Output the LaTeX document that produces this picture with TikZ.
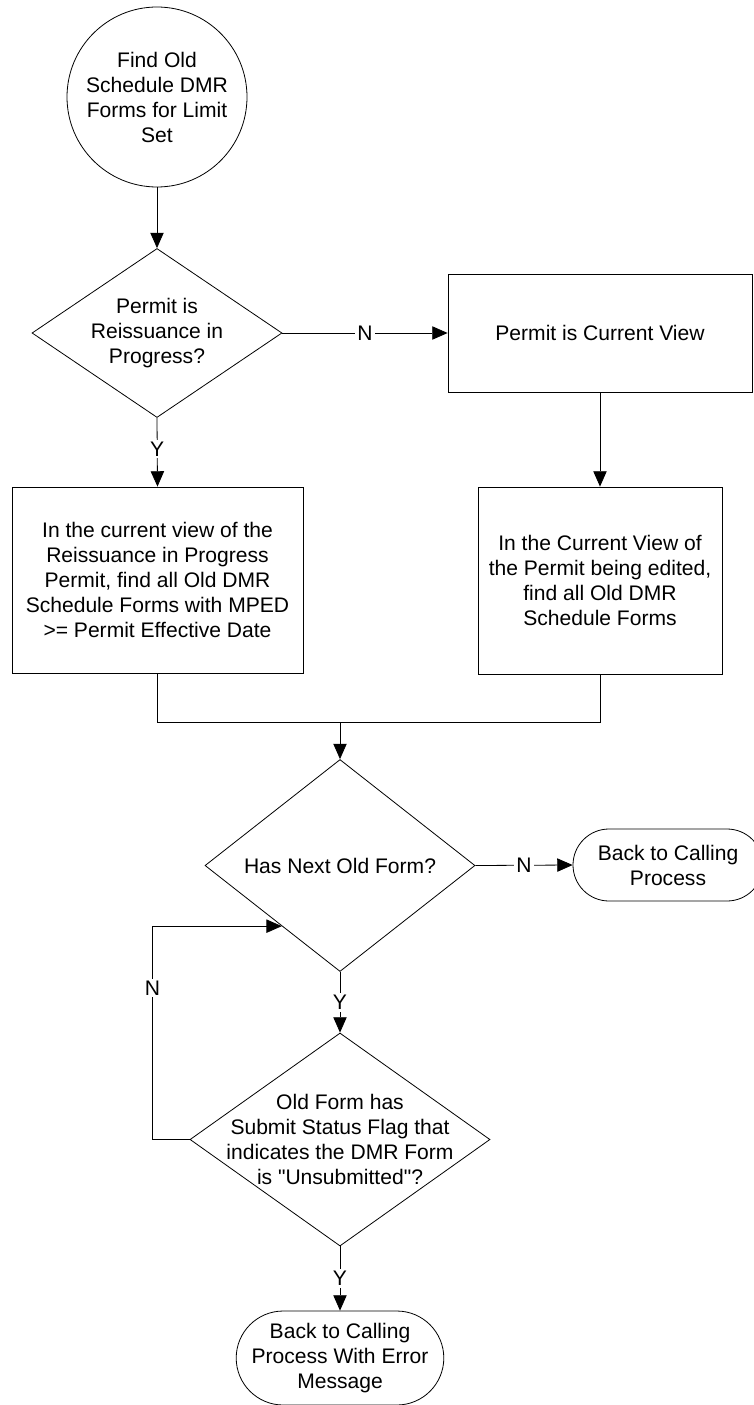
\documentclass[tikz,border=0pt]{standalone}
\usepackage{fontspec}
\setmainfont{Liberation Sans}[Ligatures=TeXOff]
\usetikzlibrary{shapes.geometric,shapes.misc,arrows.meta,calc}

\begin{document}
\begin{tikzpicture}[x=0.75pt,y=-0.75pt,
  every node/.style={font=\fontsize{15.8pt}{18.75pt}\selectfont, align=center},
  box/.style={draw, line width=0.6pt, rectangle, inner sep=0pt},
  decision/.style={draw, line width=0.6pt, diamond, inner sep=0pt},
  terminal/.style={draw, line width=0.6pt, rounded rectangle, inner sep=0pt},
  startnode/.style={draw, line width=0.6pt, circle, inner sep=0pt, minimum size=135pt},
  flow/.style={line width=0.6pt, -{Triangle[length=11.5pt,width=10pt]}},
  plain/.style={line width=0.6pt},
  lbl/.style={fill=white, inner sep=1.5pt}]

\useasboundingbox (0,0) rectangle (753,1405);

% shapes
\node[startnode] (start) at (157,97) {Find Old\\Schedule DMR\\Forms for Limit\\Set};

\node[decision, minimum width=187.5pt, minimum height=126.75pt] (d1) at (157,333) {};
\node at (d1.center) {Permit is\\Reissuance in\\Progress?};

\node[box, minimum width=228pt, minimum height=88.5pt] (cur) at (600,333) {Permit is Current View};

\node[box, minimum width=218.25pt, minimum height=139.5pt] (reis) at (157.5,580)
  {In the current view of the\\Reissuance in Progress\\Permit, find all Old DMR\\Schedule Forms with MPED\\>= Permit Effective Date};

\node[box, minimum width=183pt, minimum height=140.25pt] (edit) at (600,580.5)
  {In the Current View of\\the Permit being edited,\\find all Old DMR\\Schedule Forms};

\node[decision, minimum width=202.5pt, minimum height=159pt] (d2) at (340,865.5) {};
\node at (d2.center) {Has Next Old Form?};

\node[terminal, minimum width=142.5pt, minimum height=54pt] (back) at (668,865) {Back to Calling\\Process};

\node[decision, minimum width=225pt, minimum height=159.75pt] (d3) at (340,1139.5) {};
\node at (d3.center) {Old Form has\\Submit Status Flag that\\indicates the DMR Form\\is "Unsubmitted"?};

\node[terminal, minimum width=144.75pt, minimum height=70.5pt] (err) at (340,1358) {Back to Calling\\Process With Error\\Message};

% connectors
\draw[flow] (start.south) -- (d1.north);
\draw[flow] (d1.east) -- node[lbl]{N} (cur.west);
\draw[flow] (d1.south) -- node[lbl, pos=0.45]{Y} (reis.north);
\draw[flow] (cur.south) -- (edit.north);

\coordinate (merge) at (340,722);
\draw[plain] (reis.south) |- (merge);
\draw[plain] (edit.south) |- (merge);
\draw[flow] (merge) -- (d2.north);

\draw[flow] (d2.east) -- node[lbl]{N} (back.west);
\draw[flow] (d2.south) -- node[lbl]{Y} (d3.north);
\draw[flow] (d3.south) -- node[lbl]{Y} (err.north);

\coordinate (loopin) at ($(d2.west)!0.57!(d2.south)$);
\draw[flow] (d3.west) -- ++(-37,0) coordinate (lb)
  -- node[lbl, pos=0.71]{N} (lb |- loopin) -- (loopin);

\end{tikzpicture}
\end{document}
